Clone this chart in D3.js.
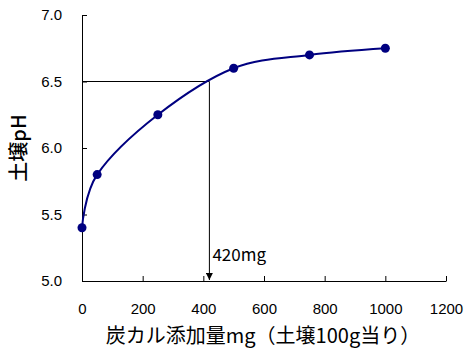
<!DOCTYPE html>
<html>
<head>
<meta charset="utf-8">
<script src="https://cdn.jsdelivr.net/npm/d3@7"></script>
<style>
  html, body { margin: 0; padding: 0; background: #fff; }
  svg { display: block; }
</style>
</head>
<body>
<svg id="chart" width="465" height="351"></svg>
<script>
// ---- data ----
const doses = [0, 50, 250, 500, 750, 1000];          // mg per 100 g soil
const phValues = [5.4, 5.8, 6.25, 6.6, 6.7, 6.75];    // soil pH
const xTickValues = [0, 200, 400, 600, 800, 1000, 1200];
const yTickValues = [5.0, 5.5, 6.0, 6.5, 7.0];
const targetPh = [6.5];
const targetDose = [420];
const targetLabel = ["420mg"];
const xTitle = "炭カル添加量mg（土壌100g当り）";
const yTitle = "土壌pH";

// ---- layout ----
const svg = d3.select("#chart");
const x = d3.scaleLinear().domain([0, 1200]).range([82, 446]);
const y = d3.scaleLinear().domain([5.0, 7.0]).range([281, 15]);

const tickFont = "'Liberation Sans', Arial, sans-serif";
const jpFont = "'Noto Sans CJK JP', 'Noto Sans', sans-serif";

// x axis (ticks inward)
const xAxis = svg.append("g")
  .attr("transform", `translate(0,${y(5.0)})`)
  .call(d3.axisBottom(x).tickValues(xTickValues).tickSizeInner(-5).tickSizeOuter(0).tickPadding(22)
    .tickFormat(d3.format("d")));
xAxis.select(".domain").attr("stroke", "#000").attr("stroke-width", 1);
xAxis.selectAll(".tick line").attr("stroke", "#000");
xAxis.selectAll("text").attr("font-family", tickFont).attr("font-size", 15).attr("fill", "#000");

// y axis (ticks inward)
const yAxis = svg.append("g")
  .attr("transform", `translate(${x(0)},0)`)
  .call(d3.axisLeft(y).tickValues(yTickValues).tickSizeInner(-5).tickSizeOuter(0).tickPadding(20)
    .tickFormat(d3.format(".1f")));
yAxis.select(".domain").attr("stroke", "#000").attr("stroke-width", 1);
yAxis.selectAll(".tick line").attr("stroke", "#000");
yAxis.selectAll("text").attr("font-family", tickFont).attr("font-size", 15).attr("fill", "#000");

// reference lines
svg.append("defs").append("marker")
  .attr("id", "arrow")
  .attr("viewBox", "0 0 10 10")
  .attr("refX", 10).attr("refY", 5)
  .attr("markerWidth", 7).attr("markerHeight", 7)
  .attr("markerUnits", "userSpaceOnUse")
  .attr("orient", "auto")
  .append("path").attr("d", "M0,0 L10,5 L0,10 Z").attr("fill", "#000");

svg.append("line")
  .attr("x1", x(0)).attr("x2", x(targetDose[0]))
  .attr("y1", y(targetPh[0])).attr("y2", y(targetPh[0]))
  .attr("stroke", "#000").attr("stroke-width", 1);
svg.append("line")
  .attr("x1", x(targetDose[0])).attr("x2", x(targetDose[0]))
  .attr("y1", y(targetPh[0])).attr("y2", y(5.0) - 1)
  .attr("stroke", "#000").attr("stroke-width", 1)
  .attr("marker-end", "url(#arrow)");
svg.append("text")
  .attr("x", x(targetDose[0]) + 3).attr("y", 261)
  .attr("font-family", jpFont).attr("font-size", 17).attr("fill", "#000")
  .text(targetLabel[0]);

// curve
const pts = doses.map((d, i) => [d, phValues[i]]);
const line = d3.line().x(d => x(d[0])).y(d => y(d[1])).curve(d3.curveCatmullRom.alpha(0));
svg.append("path")
  .attr("d", line(pts))
  .attr("fill", "none").attr("stroke", "#000080").attr("stroke-width", 2);

svg.selectAll("circle.pt").data(pts).enter().append("circle")
  .attr("class", "pt")
  .attr("cx", d => x(d[0])).attr("cy", d => y(d[1]))
  .attr("r", 4.5).attr("fill", "#000080");

// titles
svg.append("text")
  .attr("x", 263).attr("y", 343)
  .attr("text-anchor", "middle")
  .attr("font-family", jpFont).attr("font-size", 20).attr("fill", "#000")
  .text(xTitle);
svg.append("text")
  .attr("transform", "translate(26,148) rotate(-90)")
  .attr("text-anchor", "middle")
  .attr("font-family", jpFont).attr("font-size", 20).attr("font-weight", 500).attr("fill", "#000")
  .text(yTitle);
</script>
</body>
</html>
